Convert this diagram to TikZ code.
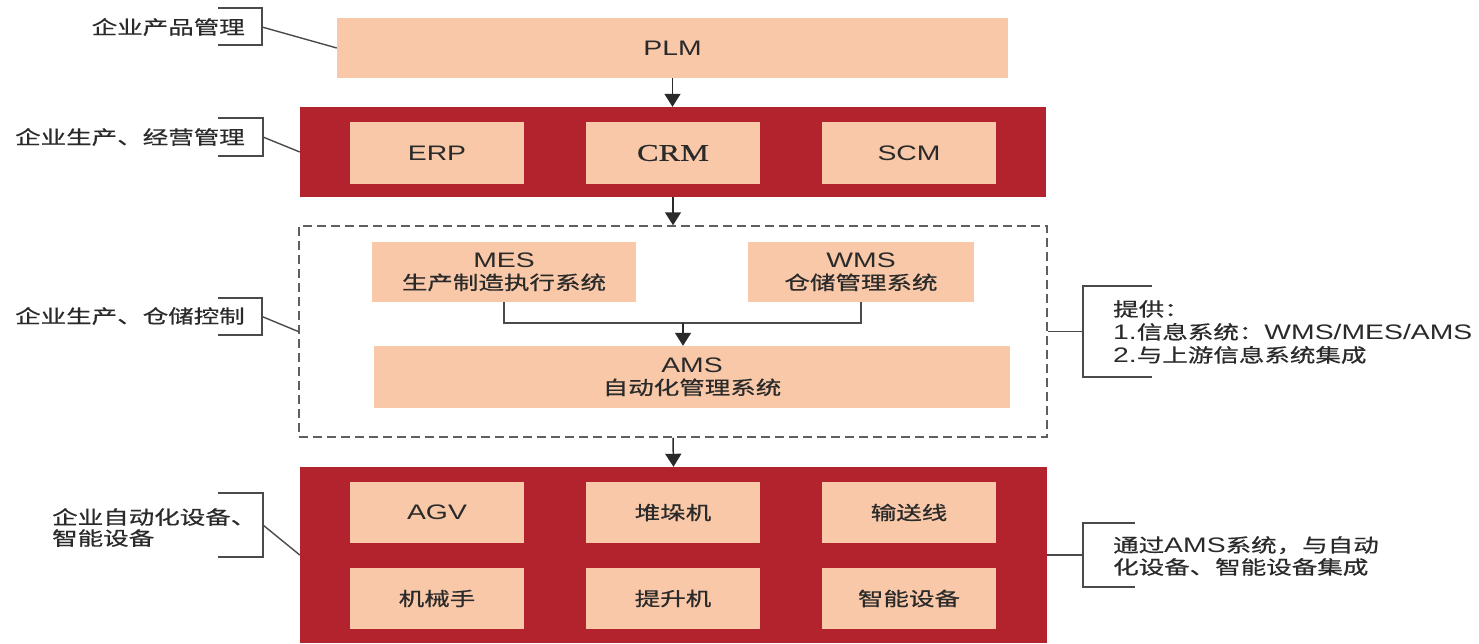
\documentclass[tikz,border=0pt]{standalone}
\usepackage{fontspec}
\usepackage{graphicx}
\setmainfont{Liberation Sans}
\newfontfamily\cjk[Scale=0.9,FakeBold=0.6]{Noto Sans CJK SC}
\newfontfamily\serifcrm[FakeBold=0.5]{Liberation Serif}
\usetikzlibrary{arrows.meta}
\definecolor{peach}{HTML}{F8C8A8}
\definecolor{brick}{HTML}{B2232E}
\definecolor{ink}{HTML}{2A2A2A}
\newcommand{\wx}[1]{\scalebox{1.35}[1]{#1}}
\newcommand{\zh}[1]{{\cjk #1}}
\begin{document}
\begin{tikzpicture}[x=1pt,y=-1pt,
  every node/.style={font=\fontsize{21}{22}\selectfont, text=ink, inner sep=0pt},
  peachbox/.style={fill=peach, draw=none},
  redband/.style={fill=brick, draw=none},
  flowarrow/.style={draw=ink, line width=1.5pt, -{Triangle[width=16pt,length=13pt]}},
  bracketline/.style={draw=ink!85, line width=1.4pt},
  dashbox/.style={draw=ink!75, line width=1.5pt, dash pattern=on 9pt off 5pt}]
\useasboundingbox (0,0) rectangle (1479,643);

% PLM
\node[peachbox, minimum width=671pt, minimum height=60pt] (plm) at (672.5,48) {\wx{PLM}};

% ERP / CRM / SCM band
\node[redband, minimum width=746pt, minimum height=90pt] (red1) at (673,152) {};
\node[peachbox, minimum width=174pt, minimum height=62pt] (erp) at (437,153) {\wx{ERP}};
\node[peachbox, minimum width=174pt, minimum height=62pt] (crm) at (673,153) {\wx{\serifcrm\fontsize{24}{24}\selectfont CRM}};
\node[peachbox, minimum width=174pt, minimum height=62pt] (scm) at (909,153) {\wx{SCM}};

% control layer
\node[dashbox, minimum width=748pt, minimum height=211pt] (ctrl) at (673,331.5) {};
\node[peachbox, minimum width=264pt, minimum height=60pt, align=center] (mes) at (504,272) {\wx{MES}\\\wx{\zh{生产制造执行系统}}};
\node[peachbox, minimum width=226pt, minimum height=60pt, align=center] (wms) at (861,272) {\wx{WMS}\\\wx{\zh{仓储管理系统}}};
\node[peachbox, minimum width=636pt, minimum height=62pt, align=center] (ams) at (692,377) {\wx{AMS}\\\wx{\zh{自动化管理系统}}};

% equipment band
\node[redband, minimum width=747pt, minimum height=176pt] (red2) at (673.5,555) {};
\node[peachbox, minimum width=174pt, minimum height=61pt] (agv) at (437,512.5) {\wx{AGV}};
\node[peachbox, minimum width=174pt, minimum height=61pt] (dd) at (673,512.5) {\wx{\zh{堆垛机}}};
\node[peachbox, minimum width=174pt, minimum height=61pt] (ss) at (909,512.5) {\wx{\zh{输送线}}};
\node[peachbox, minimum width=174pt, minimum height=61pt] (jx) at (437,598.5) {\wx{\zh{机械手}}};
\node[peachbox, minimum width=174pt, minimum height=61pt] (ts) at (673,598.5) {\wx{\zh{提升机}}};
\node[peachbox, minimum width=174pt, minimum height=61pt] (zn) at (909,598.5) {\wx{\zh{智能设备}}};

% flow arrows
\draw[flowarrow] (plm.south) -- (plm.south |- red1.north);
\draw[flowarrow] (red1.south) -- (ctrl.north);
\draw[flowarrow] (ctrl.south) -- (red2.north);
\coordinate (jn) at (683,323);
\draw[draw=ink!85, line width=1.5pt] (mes.south) |- (jn) -| (wms.south);
\draw[flowarrow] (jn) -- (jn |- ams.north);

% left labels
\node[anchor=east] (l1) at (245,27) {\wx{\zh{企业产品管理}}};
\draw[bracketline] (218,8) -- (262,8) -- (262,45) -- (218,45);
\coordinate (b1) at (262,27);
\draw[bracketline] (b1) -- (plm.west);

\node[anchor=east] (l2) at (245,137) {\wx{\zh{企业生产、经营管理}}};
\draw[bracketline] (218,118) -- (263,118) -- (263,156) -- (218,156);
\coordinate (b2) at (263,137);
\draw[bracketline] (b2) -- (red1.west);

\node[anchor=east] (l3) at (245,316) {\wx{\zh{企业生产、仓储控制}}};
\draw[bracketline] (218,298) -- (262,298) -- (262,335) -- (218,335);
\coordinate (b3) at (262,316.5);
\draw[bracketline] (b3) -- (ctrl.west);

\node[anchor=west, align=left, font=\fontsize{21}{21}\selectfont] (l4) at (52,527.5) {\wx{\zh{企业自动化设备、}}\\\wx{\zh{智能设备}}};
\draw[bracketline] (218,493) -- (263,493) -- (263,557) -- (218,557);
\coordinate (b4) at (263,525);
\draw[bracketline] (b4) -- (red2.west);

% right notes
\coordinate (r1) at (1083,331.5);
\draw[bracketline] (ctrl.east) -- (r1);
\draw[bracketline] (1152,286) -- (1083,286) -- (1083,377) -- (1152,377);
\node[anchor=west, align=left, font=\fontsize{21}{23}\selectfont] (n1) at (1113,332) {\wx{\zh{提供：}}\\\wx{1.\zh{信息系统：}WMS/MES/AMS}\\\wx{2.\zh{与上游信息系统集成}}};

\coordinate (r2) at (1083,555);
\draw[bracketline] (red2.east) -- (r2);
\draw[bracketline] (1135,523) -- (1083,523) -- (1083,587) -- (1135,587);
\node[anchor=west, align=left, font=\fontsize{21}{22}\selectfont] (n2) at (1113,556) {\wx{\zh{通过}AMS\zh{系统，与自动}}\\\wx{\zh{化设备、智能设备集成}}};
\end{tikzpicture}
\end{document}
